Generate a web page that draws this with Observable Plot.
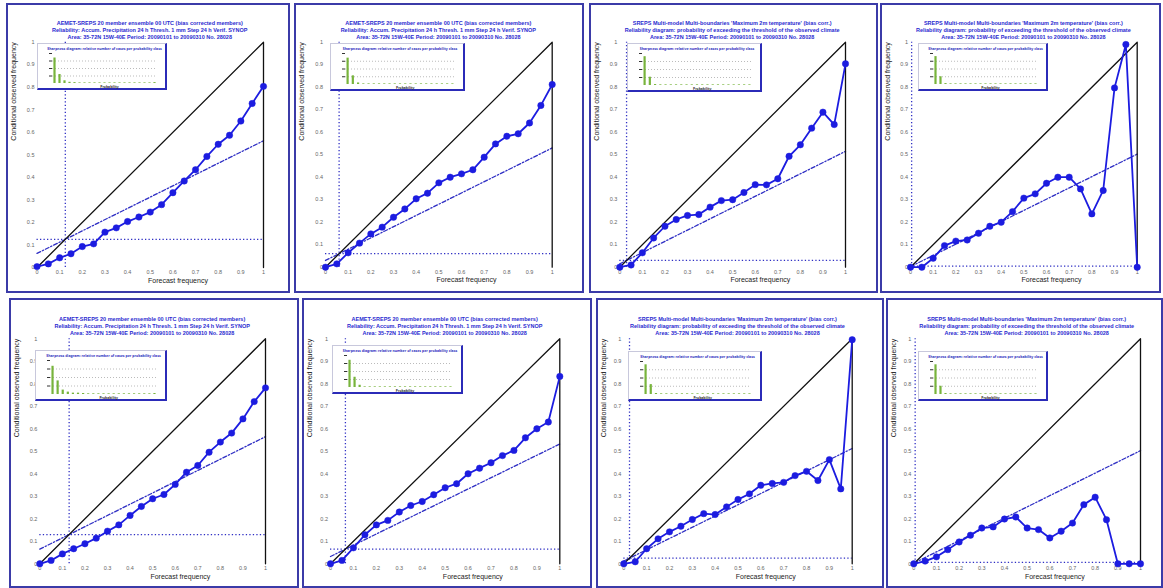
<!DOCTYPE html>
<html><head><meta charset="utf-8">
<script src="https://cdn.jsdelivr.net/npm/d3@7"></script>
<script src="https://cdn.jsdelivr.net/npm/@observablehq/plot@0.6"></script>
<style>
html,body{margin:0;padding:0;background:#fff}
body{width:1163px;height:588px;overflow:hidden;position:relative;font-family:"Liberation Sans",Arial,sans-serif}
.panel{position:absolute;box-sizing:border-box;border:2px solid #3b3ba8;background:#fff;overflow:hidden}
.panel svg.main{position:absolute;left:0;top:0}
.title{position:absolute;text-align:center;font-size:5.5px;font-weight:bold;color:#2a2ad0;line-height:7px;white-space:nowrap}
.inset{position:absolute;box-sizing:border-box;background:#fff;border-right:2px solid #2b2bb8;border-bottom:2px solid #2b2bb8;border-left:1px solid #c8c8dc;border-top:1px solid #c8c8dc}
.inset svg{position:absolute;left:0;top:0}
</style></head><body>
<script>
// ---------- data ----------
const probBins = [0,0.05,0.1,0.15,0.2,0.25,0.3,0.35,0.4,0.45,0.5,0.55,0.6,0.65,0.7,0.75,0.8,0.85,0.9,0.95,1];
const tickValues = [0,0.1,0.2,0.3,0.4,0.5,0.6,0.7,0.8,0.9,1];

const rel1 = [0.004,0.016,0.043,0.061,0.093,0.105,0.157,0.176,0.204,0.224,0.246,0.279,0.332,0.384,0.434,0.493,0.547,0.587,0.65,0.728,0.804];
const rel2 = [0,0.015,0.064,0.107,0.148,0.178,0.222,0.259,0.304,0.329,0.375,0.4,0.415,0.433,0.489,0.548,0.582,0.593,0.641,0.719,0.812];
const rel3 = [0,0.01,0.064,0.13,0.182,0.212,0.23,0.234,0.267,0.296,0.3,0.332,0.367,0.366,0.393,0.493,0.544,0.618,0.689,0.634,0.904];
const rel4 = [0,0,0.04,0.096,0.116,0.121,0.151,0.182,0.2,0.247,0.307,0.326,0.373,0.4,0.4,0.348,0.237,0.341,0.797,0.99,0];
const rel5 = [0,0.015,0.044,0.067,0.089,0.114,0.145,0.173,0.215,0.255,0.289,0.308,0.353,0.407,0.437,0.496,0.541,0.581,0.644,0.721,0.782];
const rel6 = [0,0.015,0.071,0.129,0.173,0.193,0.23,0.259,0.277,0.307,0.338,0.356,0.4,0.425,0.449,0.481,0.504,0.56,0.6,0.63,0.833];
const rel7 = [0,0.009,0.067,0.111,0.142,0.167,0.197,0.223,0.219,0.253,0.286,0.311,0.349,0.357,0.362,0.392,0.411,0.37,0.463,0.333,0.996];
const rel8 = [0,0.012,0.031,0.063,0.097,0.127,0.159,0.164,0.199,0.208,0.159,0.152,0.115,0.145,0.181,0.263,0.296,0.196,0,0,0];

const climate = [0.125,0.06,0.03,0.005,0.13,0.065,0.025,0.006];

const shp1 = [0.85,0.3,0.09,0.04,0.03,0.02,0.015,0.015,0.01,0.01,0.01,0.01,0.01,0.01,0.01,0.01,0.01,0.01,0.01,0.01,0.03];
const shp2 = [0.85,0.28,0.05,0.015,0.01,0.01,0.01,0.01,0.01,0.01,0.01,0.01,0.01,0.01,0.01,0.01,0.01,0.01,0.01,0.01,0.01];
const shp3 = [0.9,0.26,0.03,0.015,0.01,0.01,0.01,0.01,0.01,0.01,0.01,0.01,0.01,0.01,0.01,0.01,0.01,0.01,0.01,0.01,0.01];
const shp4 = [0.9,0.25,0.03,0.01,0.01,0.01,0.01,0.01,0.01,0.01,0.01,0.01,0.01,0.01,0.01,0.01,0.01,0.01,0.01,0.01,0.01];
const shp5 = [0.83,0.4,0.13,0.07,0.04,0.04,0.03,0.02,0.02,0.02,0.02,0.02,0.02,0.02,0.02,0.02,0.02,0.02,0.02,0.02,0.03];
const shp6 = [0.85,0.32,0.07,0.02,0.01,0.01,0.01,0.01,0.01,0.01,0.01,0.01,0.01,0.01,0.01,0.01,0.01,0.01,0.01,0.01,0.01];
const shp7 = [0.9,0.3,0.03,0.01,0.01,0.01,0.01,0.01,0.01,0.01,0.01,0.01,0.01,0.01,0.01,0.01,0.01,0.01,0.01,0.01,0.01];
const shp8 = [0.9,0.25,0.03,0.02,0.01,0.01,0.01,0.01,0.01,0.01,0.01,0.01,0.01,0.01,0.01,0.01,0.01,0.01,0.01,0.01,0.01];

const titlesPrecip = [
  "AEMET-SREPS 20 member ensemble 00 UTC (bias corrected members)",
  "Reliability: Accum. Precipitation 24 h  Thresh. 1 mm  Step 24 h  Verif. SYNOP",
  "Area: 35-72N 15W-40E   Period: 20090101 to 20090310   No. 28028"
];
const titlesTemp = [
  "SREPS Multi-model Multi-boundaries  'Maximum 2m temperature' (bias corr.)",
  "Reliability diagram: probability of exceeding the threshold of the observed climate",
  "Area: 35-72N 15W-40E   Period: 20090101 to 20090310   No. 28028"
];
const insetTitle = "Sharpness diagram: relative number of cases per probability class";
const insetXLabel = "Probability";
const xLabel = "Forecast frequency";
const yLabel = "Conditional observed frequency";

const relSeries = [rel1,rel2,rel3,rel4,rel5,rel6,rel7,rel8];
const shpSeries = [shp1,shp2,shp3,shp4,shp5,shp6,shp7,shp8];
const panelTitles = [titlesPrecip,titlesPrecip,titlesTemp,titlesTemp,titlesPrecip,titlesPrecip,titlesTemp,titlesTemp];

// ---------- layout ----------
const layout = [
  {left:6,  top:3,   w:284, h:290, x0:36.5,  x1:263,   y1:41.7,  y0:267,   tTop:14.5, ins:[29,38,130,47]},
  {left:294,top:3,   w:290, h:290, x0:325,   x1:551.7, y1:41.7,  y0:266.7, tTop:14.5, ins:[34,38,135,48]},
  {left:589,top:3,   w:289, h:290, x0:619.3, x1:845,   y1:41.7,  y0:266.7, tTop:14.5, ins:[36,38,135,49]},
  {left:880,top:3,   w:281, h:290, x0:910,   x1:1136.7,y1:41.7,  y0:266.7, tTop:14.5, ins:[36,38,130,48]},
  {left:9,  top:298, w:290, h:290, x0:39.3,  x1:265,   y1:338.3, y0:563.3, tTop:15.5, ins:[24,50,132,51]},
  {left:302,top:298, w:290, h:290, x0:330,   x1:559.3, y1:338.3, y0:563.3, tTop:15.5, ins:[28,45,131,49]},
  {left:596,top:298, w:288, h:290, x0:623.3, x1:851.7, y1:338.3, y0:563.3, tTop:15.5, ins:[30,51,134,50]},
  {left:886,top:298, w:277, h:290, x0:913.3, x1:1140,  y1:338.3, y0:563.3, tTop:15.5, ins:[30,51,130,50]}
];

const BLUE = "#1c1ce0";
const REFBLUE = "#2f2fc4";
const GREEN = "#78b43c";

layout.forEach((L, i) => {
  const panel = document.createElement("div");
  panel.className = "panel";
  Object.assign(panel.style, {left:L.left+"px", top:L.top+"px", width:L.w+"px", height:L.h+"px"});
  document.body.appendChild(panel);

  const W = L.w - 4, H = L.h - 4;
  const ox = L.left + 2, oy = L.top + 2;
  const clim = climate[i];
  const pts = probBins.map((p, k) => ({p, o: relSeries[i][k]}));

  const svg = Plot.plot({
    width: W, height: H,
    marginLeft: L.x0 - ox, marginRight: ox + W - L.x1,
    marginTop: L.y1 - oy, marginBottom: oy + H - L.y0,
    style: {fontSize: "5.5px", color: "#666", fontFamily: "Liberation Sans, Arial, sans-serif", background: "transparent", overflow: "visible"},
    x: {domain: [0,1], ticks: tickValues, tickSize: 0, tickPadding: 2.5, tickFormat: d => String(d), label: null},
    y: {domain: [0,1], ticks: tickValues, tickSize: 0, tickPadding: 2.5, tickFormat: d => String(d), label: null},
    marks: [
      Plot.ruleX([clim], {y1: 0, y2: 1, stroke: REFBLUE, strokeWidth: 1.3, strokeDasharray: "1.3,2.2"}),
      Plot.ruleY([clim], {x1: 0, x2: 1, stroke: REFBLUE, strokeWidth: 1.3, strokeDasharray: "1.3,2.2"}),
      Plot.line([[0, clim/2], [1, (1+clim)/2]], {stroke: REFBLUE, strokeWidth: 1.3, strokeDasharray: "4,2,1.3,2"}),
      Plot.line([[0,0],[1,1],[1,0]], {stroke: "#111", strokeWidth: 1.3}),
      Plot.line(pts, {x: "p", y: "o", stroke: BLUE, strokeWidth: 1.8}),
      Plot.dot(pts, {x: "p", y: "o", r: 3.2, fill: BLUE, stroke: BLUE, strokeWidth: 0.5}),
      Plot.text([xLabel], {x: 0.49, frameAnchor: "bottom", lineAnchor: "middle", dy: 13, textAnchor: "start", text: d => d, fontSize: 7, fill: "#222"}),
      Plot.text([yLabel], {frameAnchor: "top-left", lineAnchor: "middle", rotate: -90, textAnchor: "end", dx: -(L.x0 - ox) + 5, dy: 0, text: d => d, fontSize: 7, fill: "#222"})
    ]
  });
  svg.classList.add("main");
  panel.appendChild(svg);

  // titles
  const t = document.createElement("div");
  t.className = "title";
  Object.assign(t.style, {left: (L.x0 - ox - 30)+"px", width: (L.x1 - L.x0 + 60)+"px", top: L.tTop+"px"});
  panelTitles[i].forEach(line => { const d = document.createElement("div"); d.textContent = line; t.appendChild(d); });
  panel.appendChild(t);

  // inset sharpness histogram
  const [il, it, iw, ih] = L.ins;
  const inset = document.createElement("div");
  inset.className = "inset";
  Object.assign(inset.style, {left: il+"px", top: it+"px", width: iw+"px", height: ih+"px"});
  panel.appendChild(inset);
  const bars = probBins.map((p, k) => ({p, f: shpSeries[i][k]}));
  const isvg = Plot.plot({
    width: iw - 3, height: ih - 3,
    marginLeft: 14, marginRight: 9, marginTop: 9, marginBottom: 5,
    style: {fontSize: "3.5px", color: "#333", background: "transparent", overflow: "visible"},
    x: {domain: [-0.02, 1.02], axis: null},
    y: {domain: [0, 1], ticks: [0.25, 0.5, 0.75, 1], tickSize: 3, tickFormat: () => "", label: null},
    marks: [
      Plot.gridY([0.25, 0.5, 0.75], {stroke: "#aaa", strokeOpacity: 0.8, strokeDasharray: "1,2"}),
      Plot.ruleX(bars, {x: "p", y1: 0, y2: d => Math.max(d.f, 0.02), stroke: GREEN, strokeWidth: 2.2}),
      Plot.text([insetTitle], {x: 0.5, frameAnchor: "top", lineAnchor: "middle", dy: -4.5, text: d => d, fontSize: 3.5, fill: "#3030c0", fontWeight: "bold"}),
      Plot.text([insetXLabel], {x: 0.55, frameAnchor: "bottom", lineAnchor: "middle", dy: 3, text: d => d, fontSize: 3.4, fill: "#333", fontWeight: "bold"})
    ]
  });
  inset.appendChild(isvg);
});
</script>
</body></html>
